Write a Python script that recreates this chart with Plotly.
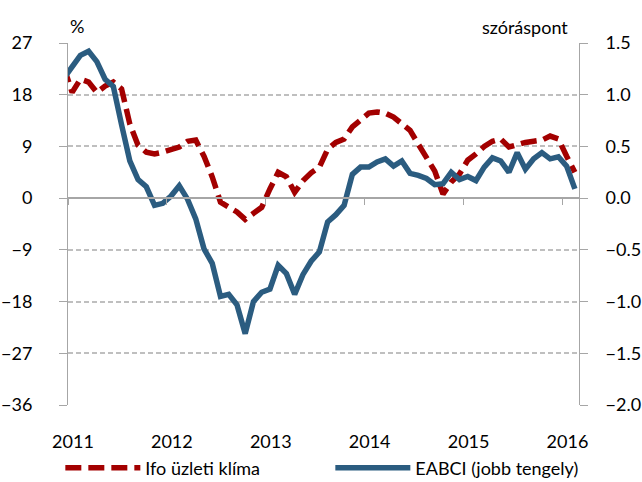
import plotly.graph_objects as go

# Monthly data, Dec 2010 .. Feb 2016 (first value only partly visible at the left edge)
year_labels = ["2011", "2012", "2013", "2014", "2015", "2016"]

ifo = [22.8, 18.4, 20.7, 20.2, 18.4, 19.5, 20.2, 19.0, 12.9, 9.2, 8.0, 7.7, 8.0,
       8.4, 8.9, 9.9, 10.1, 7.3, 3.7, -0.7, -1.6, -2.4, -3.7, -2.6, -1.6,
       1.6, 4.5, 3.7, 1.0, 3.0, 4.4, 5.4, 8.5, 9.7, 10.3, 12.4, 13.7,
       14.8, 15.0, 14.8, 14.1, 12.9, 11.8, 9.4, 7.1, 4.7, 0.7, 2.8, 4.2,
       6.6, 7.7, 9.0, 9.9, 10.3, 8.9, 9.4, 9.7, 9.9, 10.1, 10.8, 10.3,
       7.3, 4.5]

eabci = [1.16, 1.28, 1.38, 1.42, 1.32, 1.15, 1.08, 0.71, 0.36, 0.18, 0.11, -0.07, -0.05,
         0.02, 0.12, -0.01, -0.20, -0.49, -0.63, -0.95, -0.93, -1.03, -1.31, -1.00, -0.91,
         -0.88, -0.65, -0.73, -0.93, -0.74, -0.61, -0.52, -0.23, -0.16, -0.07, 0.23, 0.30,
         0.30, 0.35, 0.38, 0.31, 0.36, 0.24, 0.22, 0.19, 0.13, 0.14, 0.25, 0.18,
         0.21, 0.17, 0.30, 0.39, 0.36, 0.25, 0.44, 0.28, 0.38, 0.44, 0.38, 0.40,
         0.31, 0.09]

months = list(range(-1, len(ifo) - 1))  # month index, 0 = Jan 2011
year_starts = [12 * i - 0.5 for i in range(len(year_labels))]
year_centers = [12 * i + 0.1 for i in range(len(year_labels))]
left_ticks = list(range(-36, 28, 9))
right_ticks = [-2.0, -1.5, -1.0, -0.5, 0.0, 0.5, 1.0, 1.5]

RED = "#A30000"
BLUE = "#2B5C80"
GRID = "#BFBFBF"
AXIS = "#A6A6A6"
FONT = "Lato"
FS = 18

fig = go.Figure()
fig.add_trace(go.Scatter(x=months, y=ifo, name="Ifo üzleti klíma", mode="lines",
                         line=dict(color=RED, width=5.5, dash="16px,7px"),
                         xaxis="x", yaxis="y"))
fig.add_trace(go.Scatter(x=months, y=eabci, name="EABCI (jobb tengely)", mode="lines",
                         line=dict(color=BLUE, width=5.5),
                         xaxis="x", yaxis="y2"))
# empty helper trace so that the label-only x axis (year labels at the bottom) is drawn
fig.add_trace(go.Scatter(x=[None], y=[None], showlegend=False, hoverinfo="skip",
                         xaxis="x2", yaxis="y"))

xr = [-0.5, 61.5]
fig.update_layout(
    width=642, height=482,
    margin=dict(l=68, r=63, t=43, b=77, autoexpand=False),
    paper_bgcolor="white", plot_bgcolor="white",
    font=dict(family=FONT, size=FS, color="#000000"),
    showlegend=True,
    legend=dict(orientation="h", x=-0.015, xanchor="left", y=-(468 - 405) / 362,
                yanchor="middle",
                itemwidth=75, font=dict(size=FS), entrywidth=180, entrywidthmode="pixels",
                traceorder="normal", bgcolor="rgba(0,0,0,0)"),
    xaxis=dict(range=xr, tickmode="array", tickvals=year_starts, showticklabels=False,
               ticks="outside", ticklen=6, tickcolor=AXIS, showline=True, linecolor=AXIS,
               linewidth=1.5, showgrid=False, zeroline=False,
               anchor="free", position=36 / 63),
    xaxis2=dict(range=xr, overlaying="x", side="bottom", anchor="y", tickmode="array",
                tickvals=year_centers, ticktext=year_labels, ticks="outside", ticklen=20,
                tickcolor="rgba(0,0,0,0)", showline=False,
                showgrid=False, zeroline=False, tickfont=dict(size=FS)),
    yaxis=dict(range=[-36, 27], tickmode="array", tickvals=left_ticks,
               ticks="outside", ticklen=8, tickcolor=AXIS, showline=True, linecolor=AXIS,
               linewidth=1, showgrid=True, gridcolor=GRID, griddash="5px,3px", gridwidth=1.5,
               zeroline=False, ticklabelstandoff=23, tickfont=dict(size=FS)),
    yaxis2=dict(range=[-2.0, 1.5], overlaying="y", side="right", anchor="x", tickmode="array",
                tickvals=right_ticks, tickformat=".1f",
                ticks="outside", ticklen=8, tickcolor=AXIS, showline=True, linecolor=AXIS,
                linewidth=1, showgrid=False, zeroline=False, ticklabelstandoff=14,
                tickfont=dict(size=FS)),
    annotations=[
        dict(text="%", xref="paper", yref="paper", x=0.0, y=1 + (43 - 26) / 362,
             xanchor="left", yanchor="middle", showarrow=False, font=dict(size=FS)),
        dict(text="szóráspont", xref="paper", yref="paper", x=(570 - 68) / 511,
             y=1 + (43 - 27) / 362, xanchor="right", yanchor="middle", showarrow=False,
             font=dict(size=FS)),
    ],
)

fig.write_html("out.html", config={"displayModeBar": False},
               post_script="document.body.style.margin='0';document.body.style.overflow='hidden';")
